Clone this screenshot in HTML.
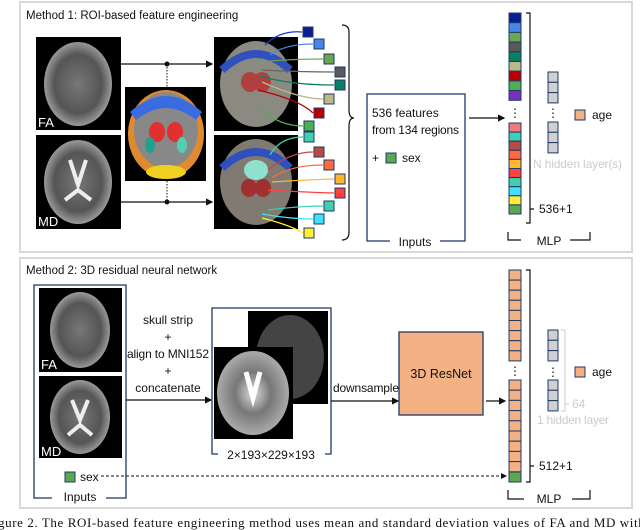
<!DOCTYPE html>
<html><head><meta charset="utf-8"><style>
html,body{margin:0;padding:0;background:#fff;width:640px;height:530px;overflow:hidden}
svg{display:block}
text{font-family:"Liberation Sans",sans-serif;font-size:12px;fill:#111}
.c{stroke:#1f3864;stroke-width:1}
</style></head><body>
<svg width="640" height="530" viewBox="0 0 640 530">
<defs>
<radialGradient id="g1" cx="50%" cy="50%" r="50%"><stop offset="0" stop-color="#777"/><stop offset="0.7" stop-color="#555"/><stop offset="1" stop-color="#999"/></radialGradient>
<radialGradient id="g2" cx="50%" cy="50%" r="50%"><stop offset="0" stop-color="#ddd"/><stop offset="0.5" stop-color="#777"/><stop offset="1" stop-color="#aaa"/></radialGradient>
<marker id="ar" markerWidth="6" markerHeight="6" refX="5" refY="3" orient="auto"><path d="M0,0 L6,3 L0,6z" fill="#111"/></marker>
</defs>
<rect x="20" y="2" width="612" height="250" fill="#fff" stroke="#d9d9d9" stroke-width="2"/>
<rect x="20" y="258" width="612" height="250" fill="#fff" stroke="#d9d9d9" stroke-width="2"/>
<text x="26" y="19" style="font-size:11.5px">Method 1: ROI-based feature engineering</text>
<text x="26" y="274" style="font-size:11.5px">Method 2: 3D residual neural network</text>

<rect x="36" y="37" width="85" height="93" fill="#000"/>
<ellipse cx="78" cy="84" rx="34" ry="42" fill="url(#g1)"/>
<text x="38" y="127" style="fill:#fff;font-size:13px">FA</text>
<rect x="36" y="135" width="85" height="94" fill="#000"/>
<ellipse cx="78" cy="182" rx="34" ry="42" fill="url(#g1)"/>
<path d="M70 160 L78 185 L86 160 M65 200 L78 190 L91 200" stroke="#eee" stroke-width="4" fill="none"/>
<text x="38" y="226" style="fill:#fff;font-size:13px">MD</text>
<rect x="125" y="87" width="81" height="94" fill="#000"/>
<ellipse cx="166" cy="134" rx="38" ry="44" fill="#e08a30"/>
<ellipse cx="166" cy="130" rx="32" ry="38" fill="#888"/>
<path d="M130 112 Q166 80 202 112 L196 120 Q166 96 136 120z" fill="#3a6be0"/>
<ellipse cx="157" cy="132" rx="8" ry="10" fill="#e03030"/>
<ellipse cx="175" cy="132" rx="8" ry="10" fill="#e03030"/>
<ellipse cx="166" cy="172" rx="20" ry="7" fill="#f0d020"/>
<ellipse cx="150" cy="145" rx="5" ry="8" fill="#20a090"/>
<ellipse cx="182" cy="145" rx="5" ry="8" fill="#50d0b0"/>
<rect x="214" y="37" width="84" height="94" fill="#000"/>
<ellipse cx="256" cy="84" rx="36" ry="43" fill="#8a8a80"/>
<ellipse cx="250" cy="82" rx="9" ry="10" fill="#b04040"/><ellipse cx="262" cy="82" rx="9" ry="10" fill="#b04040"/>
<path d="M222 70 Q256 38 290 70" stroke="#3050c0" stroke-width="8" fill="none"/>
<rect x="214" y="135" width="84" height="94" fill="#000"/>
<ellipse cx="256" cy="182" rx="36" ry="43" fill="#807a70"/>
<ellipse cx="256" cy="170" rx="12" ry="10" fill="#90e0d0"/>
<ellipse cx="249" cy="188" rx="8" ry="9" fill="#a03030"/><ellipse cx="263" cy="188" rx="8" ry="9" fill="#a03030"/>
<path d="M222 168 Q256 136 290 168" stroke="#3050c0" stroke-width="8" fill="none"/>
<line x1="121" y1="64" x2="212" y2="64" stroke="#111" stroke-width="1.2" marker-end="url(#ar)"/>
<line x1="121" y1="202" x2="212" y2="202" stroke="#111" stroke-width="1.2" marker-end="url(#ar)"/>
<circle cx="167" cy="64" r="2.5" fill="#111"/><circle cx="167" cy="202" r="2.5" fill="#111"/>
<line x1="167" y1="64" x2="167" y2="87" stroke="#111" stroke-dasharray="1.5,1.5"/>
<line x1="167" y1="181" x2="167" y2="202" stroke="#111" stroke-dasharray="1.5,1.5"/>
<g fill="none" stroke-width="1.3">
<path d="M265 45 Q280 30 302 32" stroke="#1a3fc0"/>
<path d="M270 55 Q285 44 313 44" stroke="#4a86e8"/>
<path d="M258 62 Q290 59 323 59" stroke="#6aa84f"/>
<path d="M262 70 Q300 72 334 72" stroke="#666"/>
<path d="M260 76 Q290 85 334 85" stroke="#0b7f63"/>
<path d="M262 82 Q300 99 323 99" stroke="#bdb78a"/>
<path d="M258 90 Q300 100 313 113" stroke="#b80000"/>
<path d="M262 110 Q280 126 303 126" stroke="#4caf50"/>
<path d="M270 155 Q280 137 303 137" stroke="#40d0b0"/>
<path d="M268 170 Q290 152 313 152" stroke="#b94a48"/>
<path d="M272 178 Q290 165 323 165" stroke="#ff6a3d"/>
<path d="M272 182 Q300 180 334 179" stroke="#ffb732"/>
<path d="M268 190 Q300 192 334 193" stroke="#ff4040"/>
<path d="M268 210 Q300 206 323 206" stroke="#40d0b0"/>
<path d="M262 214 Q290 219 313 219" stroke="#40e0ff"/>
<path d="M262 218 Q290 225 303 233" stroke="#ffee33"/>
</g>
<g class="c">
<rect x="303" y="27" width="10" height="10" fill="#0a1f8f"/>
<rect x="314" y="39" width="10" height="10" fill="#4a86e8"/>
<rect x="324" y="54" width="10" height="10" fill="#6aa84f"/>
<rect x="335" y="67" width="10" height="10" fill="#595959"/>
<rect x="335" y="80" width="10" height="10" fill="#0b7f63"/>
<rect x="324" y="94" width="10" height="10" fill="#bdb78a"/>
<rect x="314" y="108" width="10" height="10" fill="#b80000"/>
<rect x="304" y="121" width="10" height="10" fill="#4caf50"/>
<rect x="304" y="132" width="10" height="10" fill="#40d0b0"/>
<rect x="314" y="147" width="10" height="10" fill="#b94a48"/>
<rect x="324" y="160" width="10" height="10" fill="#ff6a3d"/>
<rect x="335" y="174" width="10" height="10" fill="#ffb732"/>
<rect x="335" y="188" width="10" height="10" fill="#ff4040"/>
<rect x="324" y="201" width="10" height="10" fill="#40d0b0"/>
<rect x="314" y="214" width="10" height="10" fill="#40e0ff"/>
<rect x="304" y="228" width="10" height="10" fill="#ffee33"/>
</g>
<path d="M342 25 Q349 25 349 32 L349 110 Q349 118 354 118 Q349 118 349 126 L349 232 Q349 240 342 240" fill="none" stroke="#111" stroke-width="1.2"/>
<path d="M390 241 L367 241 L367 94 L465 94 L465 241 L440 241" fill="none" stroke="#1f3864" stroke-width="1.3"/>
<text x="372" y="117" style="font-size:12px">536 features</text>
<text x="372" y="134" style="font-size:12px" textLength="87">from 134 regions</text>
<text x="372" y="162">+</text>
<rect x="386" y="153" width="10" height="10" fill="#5aa84f" class="c"/>
<text x="402" y="162">sex</text>
<text x="415" y="246" text-anchor="middle">Inputs</text>
<line x1="469" y1="118" x2="504" y2="118" stroke="#111" stroke-width="1.2" marker-end="url(#ar)"/>
<g class="c">
<rect x="509" y="13" width="12" height="9.7" fill="#0a1f8f"/>
<rect x="509" y="22.7" width="12" height="9.7" fill="#4a86e8"/>
<rect x="509" y="32.4" width="12" height="9.7" fill="#6aa84f"/>
<rect x="509" y="42.1" width="12" height="9.7" fill="#595959"/>
<rect x="509" y="51.8" width="12" height="9.7" fill="#0b7f63"/>
<rect x="509" y="61.5" width="12" height="9.7" fill="#bdb78a"/>
<rect x="509" y="71.2" width="12" height="9.7" fill="#b80000"/>
<rect x="509" y="80.9" width="12" height="9.7" fill="#4caf50"/>
<rect x="509" y="90.6" width="12" height="9.7" fill="#7b2fbe"/>
<rect x="509" y="123" width="12" height="9.1" fill="#f47a7a"/>
<rect x="509" y="132.1" width="12" height="9.1" fill="#40d0b0"/>
<rect x="509" y="141.2" width="12" height="9.1" fill="#b94a48"/>
<rect x="509" y="150.3" width="12" height="9.1" fill="#ff6a3d"/>
<rect x="509" y="159.4" width="12" height="9.1" fill="#ffb732"/>
<rect x="509" y="168.5" width="12" height="9.1" fill="#ff4040"/>
<rect x="509" y="177.6" width="12" height="9.1" fill="#40d0b0"/>
<rect x="509" y="186.7" width="12" height="9.1" fill="#40e0ff"/>
<rect x="509" y="195.8" width="12" height="9.1" fill="#ffee33"/>
<rect x="509" y="204.9" width="12" height="9.1" fill="#5aa84f"/>
</g>
<text x="515" y="117" text-anchor="middle">⋮</text>
<path d="M526 13 L530 13 L530 223 L526 223 M530 209 L534 209" fill="none" stroke="#111" stroke-width="1.2"/>
<text x="539" y="213">536+1</text>
<g class="c" fill="#d0d0d0">
<rect x="548" y="72" width="10" height="10.3"/><rect x="548" y="82.3" width="10" height="10.3"/><rect x="548" y="92.6" width="10" height="10.3"/>
<rect x="548" y="122" width="10" height="10.3"/><rect x="548" y="132.3" width="10" height="10.3"/><rect x="548" y="142.6" width="10" height="10.3"/>
</g>
<text x="553" y="117" text-anchor="middle">⋮</text>
<text x="533" y="168" style="fill:#ccc" textLength="89">N hidden layer(s)</text>
<rect x="575" y="110" width="10" height="10" fill="#f4b183" class="c"/>
<text x="592" y="119">age</text>
<path d="M508 232 L508 240 L521 240 M570 240 L590 240 L590 232" fill="none" stroke="#111" stroke-width="1.2"/>
<text x="549" y="245" text-anchor="middle">MLP</text>

<path d="M52 498 L34 498 L34 285 L126 285 L126 498 L106 498" fill="none" stroke="#1f3864" stroke-width="1.3"/>
<rect x="39" y="288" width="83" height="84" fill="#000"/>
<ellipse cx="80" cy="330" rx="30" ry="38" fill="url(#g1)"/>
<text x="41" y="369" style="fill:#fff;font-size:13px">FA</text>
<rect x="39" y="376" width="83" height="82" fill="#000"/>
<ellipse cx="80" cy="417" rx="30" ry="37" fill="url(#g1)"/>
<path d="M72 400 L80 420 L88 400 M68 435 L80 425 L92 435" stroke="#eee" stroke-width="4" fill="none"/>
<text x="41" y="456" style="fill:#fff;font-size:13px">MD</text>
<rect x="65" y="472" width="10" height="10" fill="#5aa84f" class="c"/>
<text x="80" y="481">sex</text>
<line x1="101" y1="476" x2="506" y2="476" stroke="#111" stroke-dasharray="3,2" marker-end="url(#ar)"/>
<text x="80" y="501" text-anchor="middle">Inputs</text>
<text x="168" y="324" text-anchor="middle">skull strip</text>
<text x="168" y="341" text-anchor="middle">+</text>
<text x="168" y="358" text-anchor="middle" textLength="82">align to MNI152</text>
<text x="168" y="375" text-anchor="middle">+</text>
<text x="168" y="392" text-anchor="middle">concatenate</text>
<line x1="126" y1="400" x2="211" y2="400" stroke="#111" stroke-width="1.2" marker-end="url(#ar)"/>
<path d="M218 454 L212 454 L212 308 L331 308 L331 454 L325 454" fill="none" stroke="#1f3864" stroke-width="1.3"/>
<rect x="248" y="311" width="80" height="93" fill="#000"/>
<ellipse cx="290" cy="357" rx="34" ry="42" fill="#444"/>
<rect x="214" y="347" width="79" height="92" fill="#000"/>
<ellipse cx="253" cy="393" rx="36" ry="42" fill="url(#g2)"/>
<path d="M246 372 L253 398 L260 372" stroke="#fff" stroke-width="5" fill="none"/>
<text x="271" y="459" text-anchor="middle">2×193×229×193</text>
<text x="333" y="392" style="font-size:12px" textLength="66">downsample</text>
<line x1="331" y1="401" x2="398" y2="401" stroke="#111" stroke-width="1.2" marker-end="url(#ar)"/>
<rect x="399" y="332" width="84" height="83" fill="#f4b183" stroke="#1f3864" stroke-width="1.3"/>
<text x="441" y="378" text-anchor="middle" style="font-size:12.5px">3D ResNet</text>
<line x1="486" y1="401" x2="505" y2="401" stroke="#111" stroke-width="1.2" marker-end="url(#ar)"/>
<g class="c" fill="#f4b183">
<rect x="509" y="270" width="12" height="10.1"/><rect x="509" y="280.1" width="12" height="10.1"/><rect x="509" y="290.2" width="12" height="10.1"/>
<rect x="509" y="300.3" width="12" height="10.1"/><rect x="509" y="310.4" width="12" height="10.1"/><rect x="509" y="320.5" width="12" height="10.1"/>
<rect x="509" y="330.6" width="12" height="10.1"/><rect x="509" y="340.7" width="12" height="10.1"/><rect x="509" y="350.8" width="12" height="10.1"/>
<rect x="509" y="380" width="12" height="10.2"/><rect x="509" y="390.2" width="12" height="10.2"/><rect x="509" y="400.4" width="12" height="10.2"/>
<rect x="509" y="410.6" width="12" height="10.2"/><rect x="509" y="420.8" width="12" height="10.2"/><rect x="509" y="431" width="12" height="10.2"/>
<rect x="509" y="441.2" width="12" height="10.2"/><rect x="509" y="451.4" width="12" height="10.2"/><rect x="509" y="461.6" width="12" height="10.2"/>
<rect x="509" y="472" width="12" height="10" fill="#5aa84f"/>
</g>
<text x="515" y="375" text-anchor="middle">⋮</text>
<path d="M526 270 L530 270 L530 482 L526 482 M530 466 L534 466" fill="none" stroke="#111" stroke-width="1.2"/>
<text x="539" y="470">512+1</text>
<g class="c" fill="#d0d0d0">
<rect x="548" y="330" width="10" height="10.3"/><rect x="548" y="340.3" width="10" height="10.3"/><rect x="548" y="350.6" width="10" height="10.3"/>
<rect x="548" y="380" width="10" height="10.3"/><rect x="548" y="390.3" width="10" height="10.3"/><rect x="548" y="400.6" width="10" height="10.3"/>
</g>
<text x="553" y="376" text-anchor="middle">⋮</text>
<path d="M561 330 L565 330 L565 411 L561 411 M565 404 L569 404" fill="none" stroke="#ccc" stroke-width="1"/>
<text x="572" y="408" style="fill:#ccc">64</text>
<text x="537" y="424" style="fill:#ccc" textLength="72">1 hidden layer</text>
<rect x="575" y="367" width="10" height="10" fill="#f4b183" class="c"/>
<text x="592" y="376">age</text>
<path d="M508 490 L508 499 L524 499 M572 499 L590 499 L590 490" fill="none" stroke="#111" stroke-width="1.2"/>
<text x="549" y="503" text-anchor="middle">MLP</text>
<text x="-14" y="527" style="font-family:'Liberation Serif',serif;font-size:13px" textLength="670">Figure 2. The ROI-based feature engineering method uses mean and standard deviation values of FA and MD within</text>
</svg>
</body></html>
